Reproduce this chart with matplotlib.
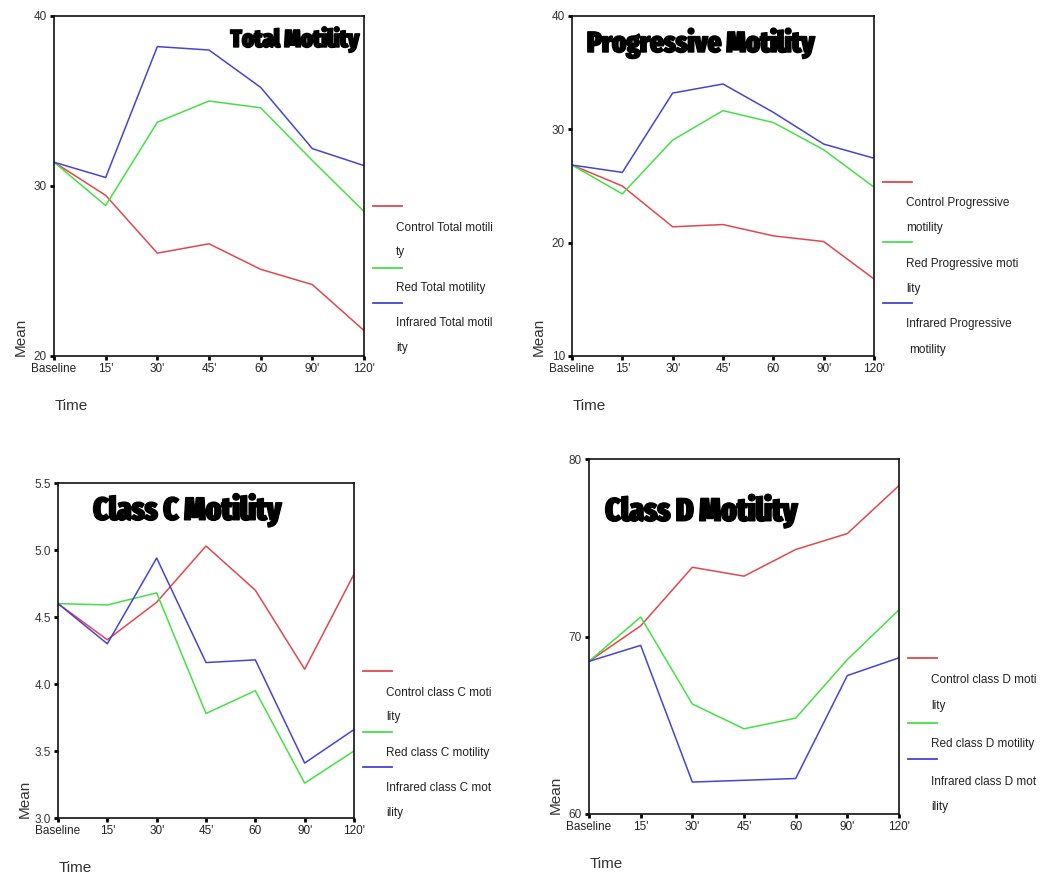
import matplotlib.pyplot as plt
from matplotlib.lines import Line2D
from matplotlib import font_manager as fm
import matplotlib.patheffects as pe

W, H = 1051, 876

times = ['Baseline', "15'", "30'", "45'", '60', "90'", "120'"]

# Total motility
total_control = [31.4, 29.45, 26.05, 26.6, 25.1, 24.2, 21.5]
total_red = [31.4, 28.85, 33.75, 35.0, 34.6, 31.5, 28.5]
total_ir = [31.4, 30.5, 38.2, 38.0, 35.8, 32.2, 31.2]

# Progressive motility
prog_control = [26.85, 25.0, 21.4, 21.6, 20.6, 20.1, 16.8]
prog_red = [26.85, 24.3, 29.05, 31.65, 30.6, 28.2, 24.9]
prog_ir = [26.85, 26.2, 33.2, 34.0, 31.5, 28.7, 27.45]

# Class C
classc_control = [4.60, 4.33, 4.61, 5.03, 4.70, 4.11, 4.82]
classc_red = [4.60, 4.59, 4.68, 3.78, 3.95, 3.26, 3.50]
classc_ir = [4.60, 4.30, 4.94, 4.16, 4.18, 3.41, 3.66]

# Class D
classd_control = [68.6, 70.6, 73.9, 73.4, 74.9, 75.8, 78.5]
classd_red = [68.6, 71.1, 66.2, 64.8, 65.4, 68.7, 71.5]
classd_ir = [68.6, 69.5, 61.8, 61.9, 62.0, 67.8, 68.8]

c_red = '#e2474f'
c_green = '#45e045'
c_blue = '#4545d2'
colors = [c_red, c_green, c_blue]

plt.rcParams['font.family'] = ['Liberation Sans', 'DejaVu Sans']


# look for a narrow heavy face for the Impact-like titles
def pick_title_font():
    best, best_score = None, -1
    for f in fm.fontManager.ttflist:
        name = (f.fname.split('/')[-1]).lower()
        if not name.endswith(('.ttf', '.otf')):
            continue
        if 'italic' in name or 'oblique' in name:
            continue
        score = 0
        if 'extracondensed' in name:
            score += 30
        elif 'semicondensed' in name:
            score += 10
        elif 'condensed' in name or 'narrow' in name:
            score += 20
        else:
            continue
        if 'black' in name:
            score += 8
        elif 'extrabold' in name:
            score += 6
        elif 'bold' in name and 'semibold' not in name:
            score += 4
        else:
            continue
        if 'noto' in name or 'roboto' in name or 'dejavu' in name:
            score += 1
        if score > best_score:
            best, best_score = f.fname, score
    if best:
        return fm.FontProperties(fname=best)
    return fm.FontProperties(family='DejaVu Sans', weight='bold')


title_font = pick_title_font()

fig = plt.figure(figsize=(W / 100, H / 100), dpi=100)
renderer = fig.canvas.get_renderer()


def fx(x):
    return x / W


def fy(y):
    return 1 - y / H


def panel(box, series, ylim, yticks, yfmt, title, tbox, legend):
    l, t, r, b = box
    ax = fig.add_axes([fx(l), fy(b), fx(r) - fx(l), fy(t) - fy(b)])
    x = list(range(len(times)))
    for s, c in zip(series, colors):
        ax.plot(x, s, color=c, lw=1.1)
    ax.set_xlim(0, len(times) - 1)
    ax.set_ylim(*ylim)
    ax.set_xticks(x)
    ax.set_xticklabels(times, fontsize=8.5, color='#222222')
    ax.set_yticks(yticks)
    ax.set_yticklabels([yfmt.format(v) for v in yticks], fontsize=8.5,
                       color='#333333')
    ax.tick_params(direction='out', length=3, width=2, color='black', pad=2)
    for sp in ax.spines.values():
        sp.set_linewidth(1.2)
        sp.set_color('#111111')
    # axis titles placed SPSS-style
    fig.text(fx(l - 40), fy(b), 'Mean', rotation=90, fontsize=11,
             color='#333333', ha='left', va='bottom')
    fig.text(fx(l + 1), fy(b + 50), 'Time', fontsize=11, color='#333333',
             ha='left', va='center')
    # big title, sized to the width it has in the original
    tx, ty, ha, width_px = tbox
    fp = title_font.copy()
    fp.set_size(20)
    tt = fig.text(tx, ty, title, ha=ha, va='top', fontproperties=fp,
                  path_effects=[pe.withStroke(linewidth=1.0, foreground='black')])
    w_now = tt.get_window_extent(renderer).width
    tt.set_fontsize(20 * width_px / w_now)
    # legend
    lx, line_rows, text_rows = legend
    for (yy, c) in zip(line_rows, colors):
        fig.add_artist(Line2D([fx(lx), fx(lx + 29)], [fy(yy), fy(yy)],
                              color=c, lw=1.3))
    for (yy, txt, dx) in text_rows:
        fig.text(fx(lx + 23 + dx), fy(yy), txt, fontsize=8.5,
                 color='#222222', ha='left', va='center')
    return ax


panel((54, 16, 364, 356), [total_control, total_red, total_ir],
      (20, 40), [20, 30, 40], '{:.0f}', 'Total Motility',
      (fx(359), fy(26), 'right', 129),
      (373, [206, 268, 303],
       [(228, 'Control Total motili', 0), (252, 'ty', 0),
        (288, 'Red Total motility', 0), (323, 'Infrared Total motil', 0),
        (348, 'ity', 0)]))

panel((572, 16, 874, 356), [prog_control, prog_red, prog_ir],
      (10, 40), [10, 20, 30, 40], '{:.0f}', 'Progressive Motility',
      (fx(587), fy(28), 'left', 228),
      (883, [182, 242, 303],
       [(203, 'Control Progressive', 0), (228, 'motility', 0),
        (264, 'Red Progressive moti', 0), (289, 'lity', 0),
        (324, 'Infrared Progressive', 0), (350, 'motility', 3)]))

panel((58, 483, 354, 818), [classc_control, classc_red, classc_ir],
      (3.0, 5.5), [3.0, 3.5, 4.0, 4.5, 5.0, 5.5], '{:.1f}', 'Class C Motility',
      (fx(93), fy(493), 'left', 189),
      (363, [671, 732, 767],
       [(693, 'Control class C moti', 0), (717, 'lity', 0),
        (753, 'Red class C motility', 0), (788, 'Infrared class C mot', 0),
        (813, 'ility', 0)]))

panel((589, 459, 899, 814), [classd_control, classd_red, classd_ir],
      (60, 80), [60, 70, 80], '{:.0f}', 'Class D Motility',
      (fx(605), fy(494), 'left', 193),
      (908, [658, 723, 759],
       [(680, 'Control class D moti', 0), (706, 'lity', 0),
        (744, 'Red class D motility', 0), (782, 'Infrared class D mot', 0),
        (807, 'ility', 0)]))

fig.savefig('out.png', dpi=100)
